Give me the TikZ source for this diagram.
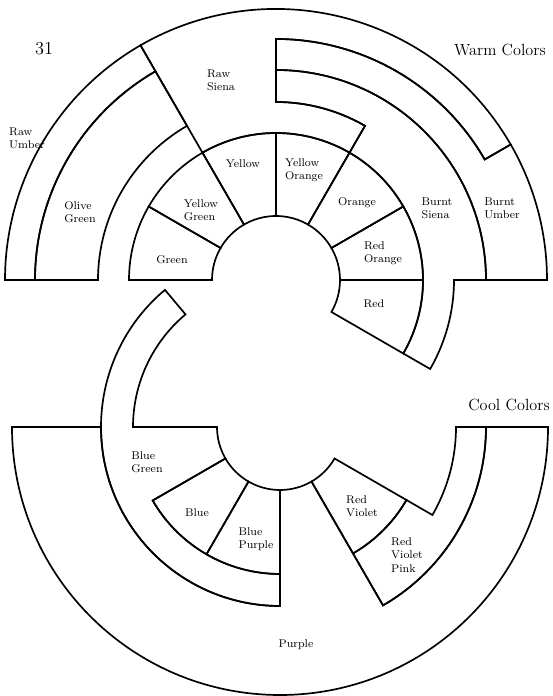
\documentclass[tikz,border=0pt]{standalone}
\usetikzlibrary{positioning}
\tikzset{band/.style={draw, line width=1.2pt, line join=miter}}

\begin{document}
\begin{tikzpicture}[x=0.025cm, y=0.025cm, every node/.style={font=\footnotesize, align=left, inner sep=1pt}]
  \useasboundingbox (0,0) rectangle (552,696);
  \coordinate (warm) at (276,416);
  \coordinate (cool) at (280,269);

  % warm wheel
  \begin{scope}[shift={(warm)}]
    \foreach \a/\b in {180/150, 150/120, 120/90, 90/60, 60/30, 30/0, 0/-30}
      \draw[band] (\a:64) -- (\a:147) arc[start angle=\a, end angle=\b, radius=147] -- (\b:64) arc[start angle=\b, end angle=\a, radius=64] -- cycle;
    \draw[band] (180:178) -- (180:241) arc[start angle=180, end angle=120, radius=241] -- (120:178) arc[start angle=120, end angle=180, radius=178] -- cycle;
    \draw[band] (180:241) -- (180:271) arc[start angle=180, end angle=120, radius=271] -- (120:241) arc[start angle=120, end angle=180, radius=241] -- cycle;
    \draw[band] (120:147) -- (120:271) arc[start angle=120, end angle=30, radius=271] -- (30:241) arc[start angle=30, end angle=90, radius=241] -- (90:178) arc[start angle=90, end angle=60, radius=178] -- (60:147) arc[start angle=60, end angle=120, radius=147] -- cycle;
    \draw[band] (90:210) arc[start angle=90, end angle=0, radius=210] -- (0:271) arc[start angle=0, end angle=30, radius=271] -- (30:241) arc[start angle=30, end angle=90, radius=241] -- cycle;
    \draw[band] (90:178) -- (90:210) arc[start angle=90, end angle=0, radius=210] -- (0:178) arc[start angle=0, end angle=-30, radius=178] -- (-30:147) arc[start angle=-30, end angle=60, radius=147] -- (60:178) arc[start angle=60, end angle=90, radius=178] -- cycle;
  \end{scope}

  % cool wheel
  \begin{scope}[shift={(cool)}]
    \foreach \a/\b in {210/240, 240/270}
      \draw[band] (\a:63) -- (\a:147) arc[start angle=\a, end angle=\b, radius=147] -- (\b:63) arc[start angle=\b, end angle=\a, radius=63] -- cycle;
    \draw[band] (300:63) -- (300:146) arc[start angle=300, end angle=330, radius=146] -- (330:63) arc[start angle=330, end angle=300, radius=63] -- cycle;
    \draw[band] (180:63) -- (180:147) arc[start angle=180, end angle=130, radius=147] -- (130:179) arc[start angle=130, end angle=270, radius=179] -- (270:147) arc[start angle=270, end angle=210, radius=147] -- (210:63) arc[start angle=210, end angle=180, radius=63] -- cycle;
    \draw[band] (180:179) -- (180:268) arc[start angle=180, end angle=360, radius=268] -- (0:206) arc[start angle=0, end angle=-60, radius=206] -- (300:63) arc[start angle=300, end angle=270, radius=63] -- (270:179) arc[start angle=270, end angle=180, radius=179] -- cycle;
    \draw[band] (300:146) -- (300:206) arc[start angle=-60, end angle=0, radius=206] -- (0:176) arc[start angle=0, end angle=-30, radius=176] -- (330:146) arc[start angle=330, end angle=300, radius=146] -- cycle;
  \end{scope}

  \node[font=\fontsize{13}{15}\selectfont] (page) at (44,647) {31};
  \node[font=\fontsize{11.5}{14}\selectfont] (warmtitle) at (500,646) {Warm Colors};
  \node[font=\fontsize{11.5}{14}\selectfont] (cooltitle) at (509,291) {Cool Colors};

  \node (rawumber) at (27,558) {Raw\\Umber};
  \node (rawsiena) at (221,616) {Raw\\Siena};
  \node (olivegreen) at (80,484) {Olive\\Green};
  \node (yellow) at (243,532) {Yellow};
  \node (yellowgreen) at (201,486) {Yellow\\Green};
  \node (green) at (172,436) {Green};
  \node (yelloworange) at (304,526) {Yellow\\Orange};
  \node (orange) at (357,493) {Orange};
  \node (redorange) at (383,443) {Red\\Orange};
  \node (burntsiena) at (437,488) {Burnt\\Siena};
  \node (burntumber) at (502,488) {Burnt\\Umber};
  \node (red) at (374,392) {Red};

  \node (bluegreen) at (147,234) {Blue\\Green};
  \node (blue) at (197,183) {Blue};
  \node (bluepurple) at (256,157) {Blue\\Purple};
  \node (redviolet) at (362,190) {Red\\Violet};
  \node (redvioletpink) at (407,141) {Red\\Violet\\Pink};
  \node (purple) at (296,51) {Purple};
\end{tikzpicture}
\end{document}
